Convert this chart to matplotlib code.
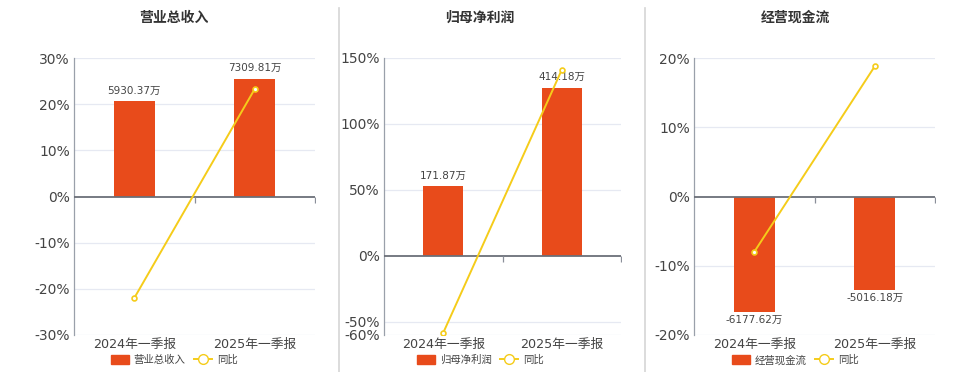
import matplotlib
matplotlib.use('Agg')
import matplotlib.pyplot as plt
from matplotlib.lines import Line2D
from matplotlib.patches import Patch
from matplotlib.ticker import FuncFormatter

plt.rcParams['font.family'] = ['DejaVu Sans', 'Noto Sans CJK SC']

# data
periods = ['2024年一季报', '2025年一季报']
titles = ['营业总收入', '归母净利润', '经营现金流']
amounts = [[5930.37, 7309.81], [171.87, 414.18], [-6177.62, -5016.18]]
yoy = [[-22.0, 23.3], [-58.3, 141.0], [-8.0, 18.8]]
pct_ticks = [[-30, -20, -10, 0, 10, 20, 30],
             [-60, -50, 0, 50, 100, 150],
             [-20, -10, 0, 10, 20]]
# amount per 1% on the hidden bar axis
bar_scale = [287.0, 3.25, 371.0]

BAR = '#e84b1b'
LINE = '#f5cc1a'
GRID = '#e6e9f2'
TXT = '#444444'

fig = plt.figure(figsize=(9.6, 3.72), dpi=100)

axes_left = [74, 384, 694]
axes_width = [241, 237, 241]
centers = [174, 480, 795]

for i in range(3):
    ax = fig.add_axes([axes_left[i] / 960, 1 - 335 / 372, axes_width[i] / 960, 277 / 372])
    lo, hi = pct_ticks[i][0], pct_ticks[i][-1]
    ax.set_xlim(-0.5, 1.5)
    ax.set_ylim(lo, hi)
    ax.set_yticks(pct_ticks[i])
    ax.yaxis.set_major_formatter(FuncFormatter(lambda v, p: f'{v:.0f}%'))
    ax.tick_params(axis='y', length=0, labelsize=10, labelcolor=TXT, pad=3)
    ax.set_xticks([0, 1])
    ax.set_xticklabels(periods)
    ax.tick_params(axis='x', length=0, labelsize=9.2, labelcolor=TXT, pad=2)
    for t in pct_ticks[i]:
        if t != 0:
            ax.axhline(t, color=GRID, lw=0.9, zorder=0)
    for s in ['top', 'right', 'bottom']:
        ax.spines[s].set_visible(False)
    ax.spines['left'].set_color('#9aa0aa')
    ax.spines['left'].set_linewidth(0.9)

    # bars on a hidden twin axis
    bx = ax.twinx()
    bx.set_ylim(lo * bar_scale[i], hi * bar_scale[i])
    bx.axis('off')
    bars = bx.bar([0, 1], amounts[i], width=0.34, color=BAR, zorder=2)
    for b, v in zip(bars, amounts[i]):
        x = b.get_x() + b.get_width() / 2
        if v >= 0:
            bx.annotate(f'{v:.2f}万', (x, v), xytext=(0, 4), textcoords='offset points',
                        ha='center', va='bottom', fontsize=7.5, color=TXT)
        else:
            bx.annotate(f'{v:.2f}万', (x, v), xytext=(0, -2), textcoords='offset points',
                        ha='center', va='top', fontsize=7.5, color=TXT)

    # zero line and category separators
    bx.axhline(0, color='#6b6f78', lw=1.3, zorder=3)
    bx.plot([0.5, 1.5], [0, 0], linestyle='none', marker=3, markersize=4,
            markeredgewidth=0.9, color='#8a8f99', zorder=3)

    # yoy line on the visible percent axis, drawn above bars
    ln = Line2D([0, 1], yoy[i], color=LINE, lw=1.4, marker='o', markersize=3.5,
                markerfacecolor='white', markeredgecolor=LINE, markeredgewidth=1.2,
                zorder=5)
    bx.add_line(ln)
    ln.set_transform(ax.transData)

    fig.text(centers[i] / 960, 1 - 18 / 372, titles[i], ha='center', va='center',
             fontsize=10, fontweight='bold', color='#333333')

    handles = [Patch(facecolor=BAR, edgecolor=BAR),
               Line2D([0], [0], color=LINE, lw=1.4, marker='o', markersize=7,
                      markerfacecolor='white', markeredgecolor=LINE)]
    fig.legend(handles, [titles[i], '同比'], loc='center',
               bbox_to_anchor=(centers[i] / 960, 1 - 360 / 372), ncol=2,
               frameon=False, fontsize=7.5, handlelength=1.8, handleheight=0.9,
               columnspacing=0.8, handletextpad=0.4, labelcolor=TXT)

for xd in [339, 645]:
    fig.add_artist(Line2D([xd / 960, xd / 960], [0, 1 - 8 / 372], color='#d5d5d5', lw=1.2))

fig.savefig('out.png', dpi=100)
